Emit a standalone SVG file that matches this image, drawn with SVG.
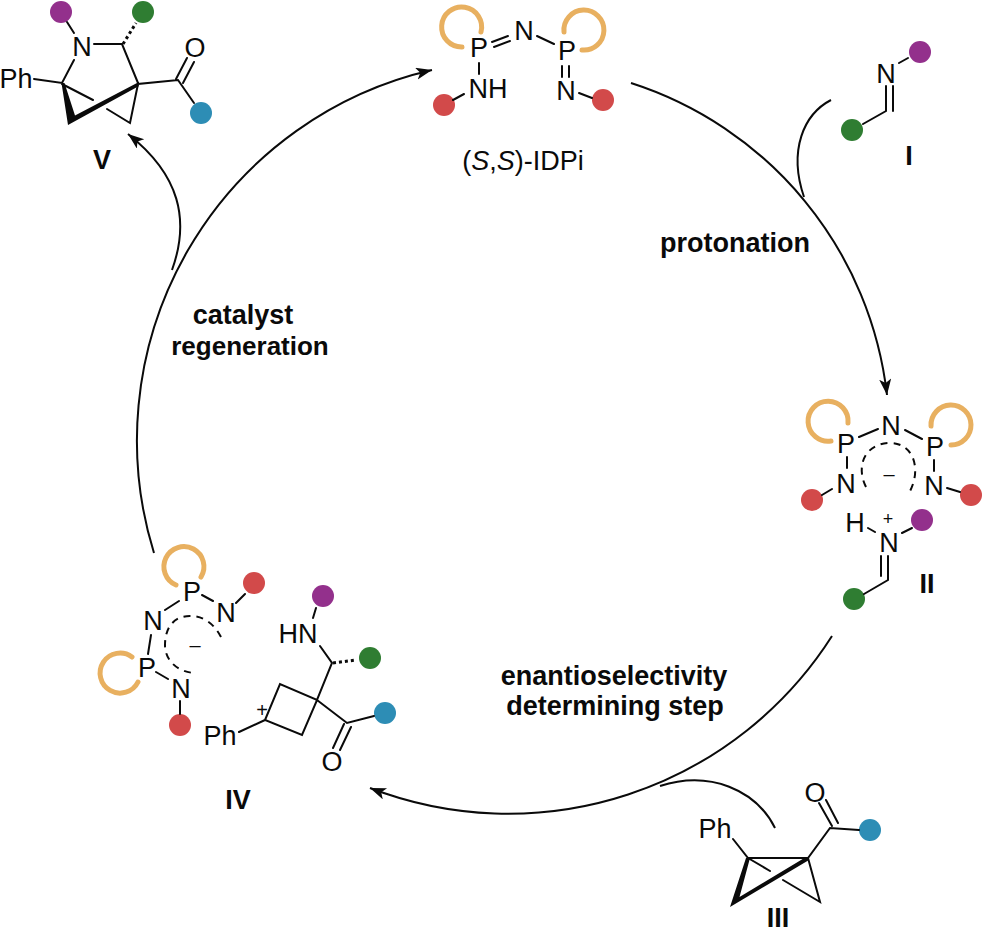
<svg xmlns="http://www.w3.org/2000/svg" width="982" height="933" viewBox="0 0 982 933">
<style>
text{font-family:"Liberation Sans",Arial,sans-serif;fill:#0a0a0a}
.a{font-size:27px;text-anchor:middle}
.b{font-size:27px;font-weight:bold;text-anchor:middle}
.s{font-size:20px;text-anchor:middle}
.l{fill:none;stroke:#0a0a0a;stroke-width:2;stroke-linecap:round}
.c{fill:none;stroke:#0a0a0a;stroke-width:2}
.o{fill:none;stroke:#e8b060;stroke-width:5;stroke-linecap:round}
.d{fill:none;stroke:#0a0a0a;stroke-width:2;stroke-dasharray:7 6}
.h{fill:none;stroke:#0a0a0a;stroke-width:3;stroke-dasharray:3 3}
.w{fill:#0a0a0a;stroke:none}
.pu{fill:#93308c}.gr{fill:#2f7d32}.bl{fill:#2d8db5}.re{fill:#d24a4a}
</style>
<defs>
<marker id="ah" markerWidth="18" markerHeight="14" refX="16" refY="6" orient="auto" markerUnits="userSpaceOnUse"><path d="M0 0L16 6L0 12L4 6Z" fill="#0a0a0a"/></marker>
</defs>
<g id="connectors">
<path class="c" marker-end="url(#ah)" d="M631 83A372 372 0 0 1 887 395"/>
<path class="c" marker-end="url(#ah)" d="M832 636A384 384 0 0 1 370 788"/>
<path class="c" marker-end="url(#ah)" d="M154 553A380 380 0 0 1 432 70"/>
<path class="c" d="M831 100C804 114 788 150 804 197"/>
<path class="c" d="M660 786C710 770 756 790 775 828"/>
<path class="c" marker-end="url(#ah)" d="M172 270C190 220 180 175 128 134"/>
</g>
<g id="node-V">
<circle class="pu" cx="61" cy="12" r="11"/><circle class="gr" cx="143" cy="12" r="11"/><circle class="bl" cx="201" cy="113" r="11"/>
<path class="l" d="M67 22L74 33M94 44H122L138 83M34 79L62 83L74 60M62 84L93 100M107 109L130 123L138 84L178 80L194 103M176 79L187 58M183 83L194 62"/>
<path class="w" d="M61.500 83L64.500 83L75 115.500L137 83L139 86L68 125Z"/>
<path class="h" d="M123 44L136 23"/>
<text class="a" x="82" y="56">N</text><text class="a" x="195" y="57">O</text><text class="a" x="16" y="88">Ph</text>
<text class="b" x="102" y="169">V</text>
</g>
<g id="node-IDPi">
<path class="o" d="M462 47A20 20 0 1 1 481 32"/><path class="o" d="M564 32A20 20 0 1 1 582 50"/>
<circle class="re" cx="444" cy="105" r="11"/><circle class="re" cx="603" cy="100" r="11"/>
<path class="l" d="M492 42L508 36M494 47L510 41M537 36L554 44M479 63V74M453 100L464 94M562 66V77M569 66V77M579 93L592 98"/>
<text class="a" x="479" y="57">P</text><text class="a" x="524" y="40">N</text><text class="a" x="567" y="60">P</text><text class="a" x="488" y="98">NH</text><text class="a" x="566" y="100">N</text>
<text x="523" y="170" style="font-size:27px;text-anchor:middle">(<tspan font-style="italic">S</tspan>,<tspan font-style="italic">S</tspan>)-IDPi</text>
</g>
<g id="node-I">
<circle class="pu" cx="920" cy="52" r="11"/><circle class="gr" cx="852" cy="130" r="11"/>
<path class="l" d="M899 63L908 58M886 86V111L863 124M893 86V111"/>
<text class="a" x="886" y="83">N</text><text class="b" x="909" y="165">I</text>
</g>
<g id="node-II">
<path class="o" d="M831 441A20 20 0 1 1 848 423"/><path class="o" d="M931 426A20 20 0 1 1 951 445"/>
<circle class="re" cx="812" cy="500" r="11"/><circle class="re" cx="971" cy="495" r="11"/><circle class="pu" cx="922" cy="520" r="11"/><circle class="gr" cx="854" cy="599" r="11"/>
<path class="l" d="M859 437L878 429M905 430L922 439M847 457V468M934 460V471M822 495L832 489M947 488L960 492M868 528L875 532M902 533L912 528M881 556V576M888 556V580L864 594"/>
<path class="d" d="M866 487C855 465 866 443 890 443C914 443 922 470 909 493"/>
<text class="a" x="846" y="453">P</text><text class="a" x="891" y="435">N</text><text class="a" x="935" y="456">P</text><text class="a" x="846" y="493">N</text><text class="a" x="934" y="495">N</text><text class="a" x="855" y="532">H</text><text class="a" x="889" y="552">N</text>
<text x="888" y="525" style="font-size:18px;text-anchor:middle">+</text><text class="s" x="889" y="481">–</text>
<text class="b" x="927" y="593">II</text>
</g>
<g id="node-III">
<circle class="bl" cx="870" cy="830" r="11"/>
<path class="l" d="M733 839L748 858H808L830 828L859 830M808 858L820 902L783 880M748 858L770 871M819 803L832 826M826 800L838 823"/>
<path class="w" d="M746 858L750 858L739.500 897L806 857L809 860L730 907Z"/>
<text class="a" x="715" y="838">Ph</text><text class="a" x="815" y="802">O</text>
<text class="b" x="778" y="927">III</text>
</g>
<g id="node-IV">
<path class="o" d="M176 585A20 20 0 1 1 201 577"/><path class="o" d="M132 657A20 20 0 1 0 138 682"/>
<circle class="re" cx="254" cy="583" r="11"/><circle class="re" cx="180" cy="725" r="11"/><circle class="pu" cx="323" cy="596" r="11"/><circle class="gr" cx="370" cy="658" r="11"/><circle class="bl" cx="385" cy="713" r="11"/>
<path class="l" d="M165 610L179 601M202 595L213 601M236 603L245 594M151 635L148 654M156 672L168 679M180 701V714M316 608L313 618M320 646L332 663L317 700L280 684L265 720L302 735L317 700L347 723L374 716M265 720L239 732M344 724L333 748M351 727L340 750"/>
<path class="d" d="M221 637C212 620 200 616 190 616C172 616 165 630 165 645C165 662 180 673 196 673"/>
<path class="h" d="M333 663L356 660"/>
<text class="a" x="192" y="601">P</text><text class="a" x="226" y="622">N</text><text class="a" x="153" y="630">N</text><text class="a" x="147" y="677">P</text><text class="a" x="181" y="698">N</text><text class="a" x="298" y="643">HN</text><text class="a" x="220" y="745">Ph</text><text class="a" x="332" y="771">O</text>
<text class="s" x="262" y="717">+</text><text class="s" x="195" y="652">–</text>
<text class="b" x="238" y="809">IV</text>
</g>
<g id="labels">
<text class="b" x="735" y="252">protonation</text>
<text class="b" x="243" y="324">catalyst</text><text class="b" x="250" y="355" style="font-size:26px">regeneration</text>
<text class="b" x="614" y="685">enantioselectivity</text><text class="b" x="615" y="715">determining step</text>
</g>
</svg>
